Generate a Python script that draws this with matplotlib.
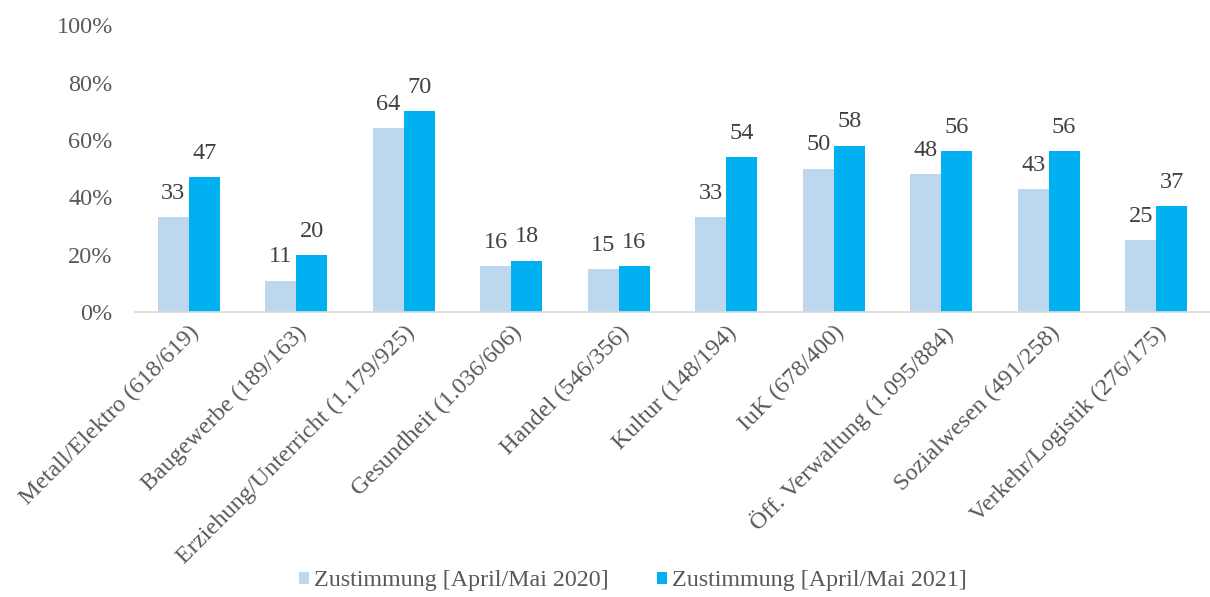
import matplotlib.pyplot as plt
import numpy as np

plt.rcParams['font.family'] = ['Liberation Serif', 'DejaVu Serif']

categories = ['Metall/Elektro (618/619)', 'Baugewerbe (189/163)', 'Erziehung/Unterricht (1.179/925)',
              'Gesundheit (1.036/606)', 'Handel (546/356)', 'Kultur (148/194)', 'IuK (678/400)',
              'Öff. Verwaltung (1.095/884)', 'Sozialwesen (491/258)', 'Verkehr/Logistik (276/175)']
values_2020 = [33, 11, 64, 16, 15, 33, 50, 48, 43, 25]
values_2021 = [47, 20, 70, 18, 16, 54, 58, 56, 56, 37]
series_labels = ['Zustimmung [April/Mai 2020]', 'Zustimmung [April/Mai 2021]']

fig = plt.figure(figsize=(12.1, 5.97), dpi=100)
ax = fig.add_axes([0.1116, 0.477, 0.8884, 0.481])

x = np.arange(len(categories))
w = 0.287
b1 = ax.bar(x - w / 2, values_2020, w, color='#BDD7EE', label=series_labels[0])
b2 = ax.bar(x + w / 2, values_2021, w, color='#00B0F0', label=series_labels[1])

for bars, vals in [(b1, values_2020), (b2, values_2021)]:
    for rect, v in zip(bars, vals):
        ax.annotate(str(v), (rect.get_x() + rect.get_width() / 2, v), xytext=(0, 9.5),
                    textcoords='offset points', ha='center', va='bottom',
                    fontsize=17.5, color='#404040')

ax.set_xlim(-0.5, len(categories) - 0.5)
ax.set_ylim(0, 100)
ax.set_yticks(range(0, 101, 20))
ax.set_yticklabels([f'{t}%' for t in range(0, 101, 20)])
ax.tick_params(axis='y', length=0, labelsize=17.5, labelcolor='#595959', pad=16)
ax.set_xticks(x)
ax.set_xticklabels(categories, rotation=45, ha='right', rotation_mode='anchor')
ax.tick_params(axis='x', length=0, labelsize=17.5, labelcolor='#595959', pad=7)

for s in ['top', 'right', 'left']:
    ax.spines[s].set_visible(False)
ax.spines['bottom'].set_color('#D9D9D9')
ax.spines['bottom'].set_linewidth(1.2)

fig.legend(handles=[b1, b2], loc='center', bbox_to_anchor=(0.523, 0.027), ncol=2,
           frameon=False, fontsize=17.3, handlelength=0.42, handleheight=0.42,
           handletextpad=0.2, columnspacing=2.0, labelcolor='#595959')

fig.savefig('out.png', dpi=100)
